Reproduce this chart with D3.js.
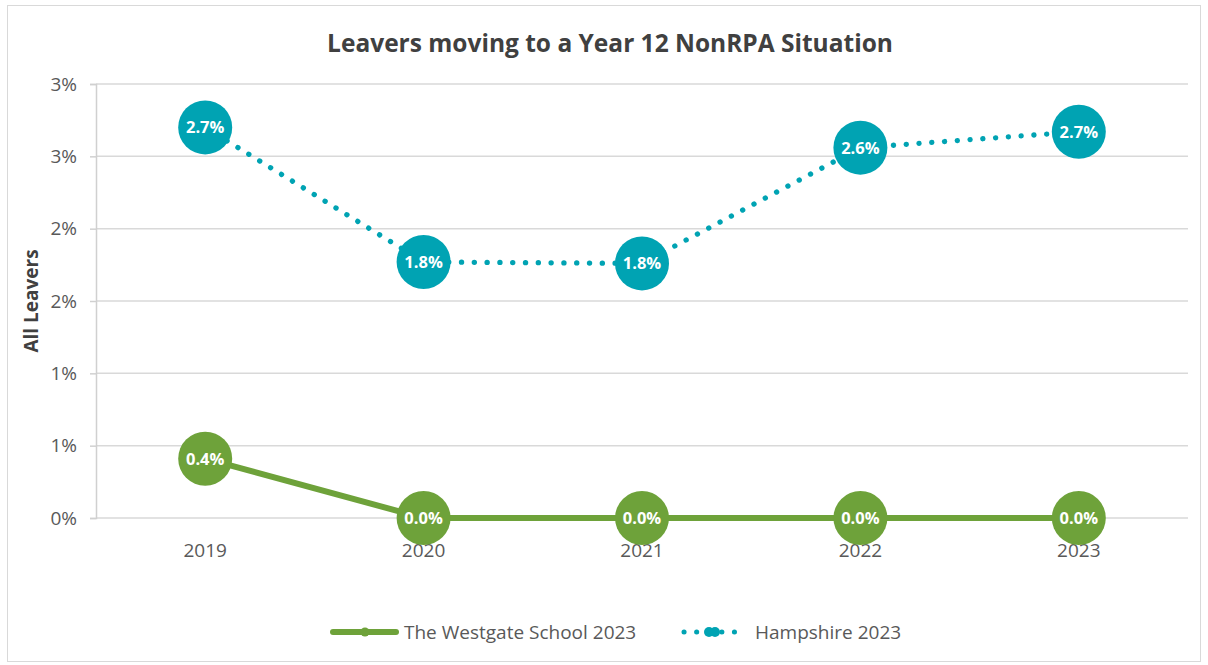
<!DOCTYPE html>
<html>
<head>
<meta charset="utf-8">
<script src="https://cdn.jsdelivr.net/npm/d3@7"></script>
<style>
  html, body { margin: 0; padding: 0; background: #fff; }
  svg { display: block; font-family: "Open Sans", "Noto Sans", sans-serif; }
</style>
</head>
<body>
<div id="chart"></div>
<script>
// chart data
const years = ['2019', '2020', '2021', '2022', '2023'];
const westgate = [0.41, 0, 0, 0, 0];
const hampshire = [2.70, 1.77, 1.76, 2.56, 2.67];
const yTicks = [0, 0.5, 1, 1.5, 2, 2.5, 3];
const seriesNames = ['The Westgate School 2023', 'Hampshire 2023'];

(function() {
  const W = 1208, H = 665;
  const green = '#6ea23a', teal = '#00a3b3';

  const svg = d3.select('#chart').append('svg')
    .attr('width', W).attr('height', H);

  // outer frame
  svg.append('rect')
    .attr('x', 7.5).attr('y', 5.5)
    .attr('width', 1193).attr('height', 656)
    .attr('fill', '#fff').attr('stroke', '#d9d9d9');

  const plotLeft = 96, plotRight = 1188, plotTop = 84, plotBottom = 518;

  const x = d3.scalePoint().domain(years).range([plotLeft, plotRight]).padding(0.5);
  const y = d3.scaleLinear().domain([0, 3]).range([plotBottom, plotTop]);

  // title
  svg.append('text')
    .attr('x', 610).attr('y', 52)
    .attr('text-anchor', 'middle')
    .attr('font-size', '24.5px').attr('font-weight', 'bold')
    .attr('fill', '#404040')
    .text('Leavers moving to a Year 12 NonRPA Situation');

  // gridlines
  svg.append('g').selectAll('line')
    .data(yTicks).enter().append('line')
    .attr('x1', plotLeft).attr('x2', plotRight)
    .attr('y1', function(d) { return y(d); }).attr('y2', function(d) { return y(d); })
    .attr('stroke', '#d9d9d9').attr('stroke-width', 1.5);

  // y axis
  const yAxis = svg.append('g').attr('transform', 'translate(' + plotLeft + ',0)')
    .call(d3.axisLeft(y).tickValues(yTicks).tickSize(6)
      .tickFormat(function(d) { return d3.format('.0f')(d) + '%'; }));
  yAxis.select('.domain').attr('stroke', '#d0d0d0').attr('stroke-width', 1.5);
  yAxis.selectAll('.tick line').attr('stroke', '#d0d0d0').attr('stroke-width', 1.5);
  yAxis.selectAll('.tick text')
    .attr('x', -19).attr('fill', '#595959')
    .attr('font-size', '19px').attr('font-family', '"Open Sans", sans-serif');

  // x labels
  svg.append('g').selectAll('text')
    .data(years).enter().append('text')
    .attr('x', function(d) { return x(d); })
    .attr('y', 557)
    .attr('text-anchor', 'middle')
    .attr('font-size', '19px').attr('fill', '#595959')
    .text(function(d) { return d; });

  // y axis title
  svg.append('text')
    .attr('transform', 'translate(38,' + ((plotTop + plotBottom) / 2) + ') rotate(-90)')
    .attr('text-anchor', 'middle')
    .attr('font-size', '19px').attr('font-weight', 'bold')
    .attr('fill', '#404040')
    .text('All Leavers');

  const line = d3.line()
    .x(function(d, i) { return x(years[i]); })
    .y(function(d) { return y(d); });

  // Hampshire dotted line
  svg.append('path')
    .datum(hampshire)
    .attr('d', line)
    .attr('fill', 'none')
    .attr('stroke', teal).attr('stroke-width', 5.3)
    .attr('stroke-linecap', 'round')
    .attr('stroke-dasharray', '0.1 12.7');

  // Westgate solid line
  svg.append('path')
    .datum(westgate)
    .attr('d', line)
    .attr('fill', 'none')
    .attr('stroke', green).attr('stroke-width', 6);

  function bubbles(data, color) {
    const g = svg.append('g');
    g.selectAll('circle').data(data).enter().append('circle')
      .attr('cx', function(d, i) { return x(years[i]); })
      .attr('cy', function(d) { return y(d); })
      .attr('r', 27)
      .attr('fill', color);
    g.selectAll('text').data(data).enter().append('text')
      .attr('x', function(d, i) { return x(years[i]); })
      .attr('y', function(d) { return y(d) + 6; })
      .attr('text-anchor', 'middle')
      .attr('font-size', '16.5px').attr('font-weight', 'bold')
      .attr('fill', '#fff')
      .text(function(d) { return d3.format('.1f')(d) + '%'; });
  }
  bubbles(westgate, green);
  bubbles(hampshire, teal);

  // legend
  const ly = 632;
  const lg = svg.append('g');
  lg.append('line')
    .attr('x1', 333).attr('x2', 396).attr('y1', ly).attr('y2', ly)
    .attr('stroke', green).attr('stroke-width', 6).attr('stroke-linecap', 'round');
  lg.append('circle').attr('cx', 365).attr('cy', ly).attr('r', 4.5).attr('fill', green);
  lg.append('text')
    .attr('x', 404).attr('y', ly + 7)
    .attr('font-size', '19px').attr('fill', '#595959')
    .text(seriesNames[0]);

  lg.append('line')
    .attr('x1', 684).attr('x2', 736).attr('y1', ly).attr('y2', ly)
    .attr('stroke', teal).attr('stroke-width', 5)
    .attr('stroke-linecap', 'round').attr('stroke-dasharray', '0.1 12.5');
  lg.append('circle').attr('cx', 709).attr('cy', ly).attr('r', 5).attr('fill', teal);
  lg.append('circle').attr('cx', 715).attr('cy', ly).attr('r', 5).attr('fill', teal);
  lg.append('text')
    .attr('x', 755).attr('y', ly + 7)
    .attr('font-size', '19px').attr('fill', '#595959')
    .text(seriesNames[1]);
})();
</script>
</body>
</html>
